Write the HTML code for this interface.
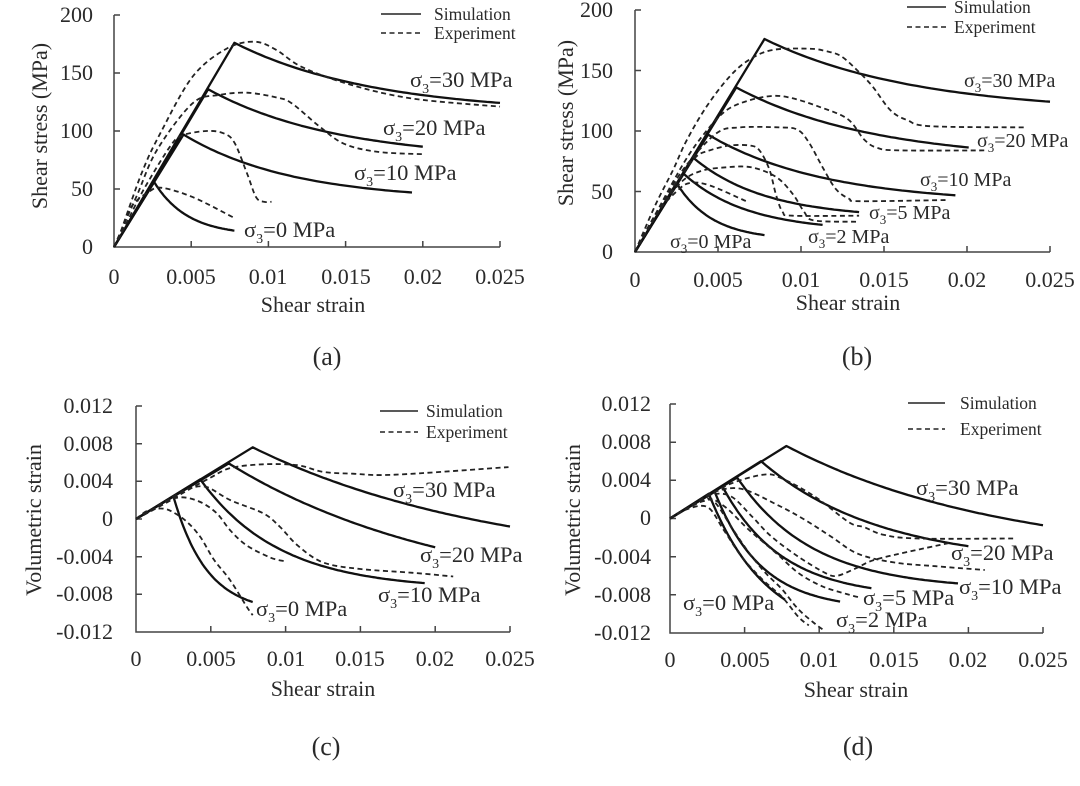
<!DOCTYPE html>
<html><head><meta charset="utf-8"><style>
html,body{margin:0;padding:0;background:#fff;}
svg{display:block;}
text{font-family:"Liberation Serif","Times New Roman",serif;fill:#2a2a2a;}
.tk{font-size:22px;}
.ax{font-size:22px;}
.lg{font-size:17.5px;}
.la{font-size:22.5px;}
.lb{font-size:20px;}
.cap{font-size:26px;}
</style></head><body>
<svg id="s" width="1080" height="786" viewBox="0 0 1080 786" xmlns="http://www.w3.org/2000/svg">
<rect width="1080" height="786" fill="#fff"/>
<g fill="none" stroke="#444" stroke-width="1.5">
<path d="M114,15 V247 H500 M114,15 H120 M114,73 H120 M114,131 H120 M114,189 H120 M191.2,247 V241 M268.4,247 V241 M345.6,247 V241 M422.8,247 V241 M500,247 V241"/>
<path d="M635,10 V252 H1050 M635,10 H641 M635,70.5 H641 M635,131 H641 M635,191.5 H641 M718,252 V246 M801,252 V246 M884,252 V246 M967,252 V246 M1050,252 V246"/>
<path d="M136,406 V632 H510 M136,406 H142 M136,443.7 H142 M136,481.3 H142 M136,519 H142 M136,556.7 H142 M136,594.3 H142 M210.8,632 V626 M285.6,632 V626 M360.4,632 V626 M435.2,632 V626 M510,632 V626"/>
<path d="M670,404 V633 H1043 M670,404 H676 M670,442.2 H676 M670,480.3 H676 M670,518.5 H676 M670,556.7 H676 M670,594.8 H676 M744.6,633 V627 M819.2,633 V627 M893.8,633 V627 M968.4,633 V627 M1043,633 V627"/>
</g>
<g stroke="#222" stroke-width="1.6" fill="none">
<path d="M381,14 H421"/><path d="M381,33 H421" stroke-dasharray="5 3.5"/>
<path d="M907,7 H946"/><path d="M907,27 H946" stroke-dasharray="5 3.5"/>
<path d="M380,411 H418"/><path d="M380,432 H418" stroke-dasharray="5 3.5"/>
<path d="M908,403 H945"/><path d="M908,429 H945" stroke-dasharray="5 3.5"/>
</g>
<g class="lg">
<text x="434" y="20">Simulation</text><text x="434" y="39">Experiment</text>
<text x="954" y="13">Simulation</text><text x="954" y="33">Experiment</text>
<text x="426" y="417">Simulation</text><text x="426" y="438">Experiment</text>
<text x="960" y="409">Simulation</text><text x="960" y="435">Experiment</text>
</g>
<g class="tk" text-anchor="end">
<text x="93" y="22">200</text><text x="93" y="80">150</text><text x="93" y="138">100</text><text x="93" y="196">50</text><text x="93" y="254">0</text>
<text x="613" y="17">200</text><text x="613" y="78">150</text><text x="613" y="138">100</text><text x="613" y="199">50</text><text x="613" y="259">0</text>
<text x="113" y="413">0.012</text><text x="113" y="451">0.008</text><text x="113" y="488">0.004</text><text x="113" y="526">0</text><text x="113" y="564">-0.004</text><text x="113" y="601">-0.008</text><text x="113" y="639">-0.012</text>
<text x="651" y="411">0.012</text><text x="651" y="449">0.008</text><text x="651" y="487">0.004</text><text x="651" y="525">0</text><text x="651" y="564">-0.004</text><text x="651" y="602">-0.008</text><text x="651" y="640">-0.012</text>
</g>
<g class="tk" text-anchor="middle">
<text x="114" y="284">0</text><text x="191" y="284">0.005</text><text x="268" y="284">0.01</text><text x="346" y="284">0.015</text><text x="423" y="284">0.02</text><text x="500" y="284">0.025</text>
<text x="635" y="287">0</text><text x="718" y="287">0.005</text><text x="801" y="287">0.01</text><text x="884" y="287">0.015</text><text x="967" y="287">0.02</text><text x="1050" y="287">0.025</text>
<text x="136" y="666">0</text><text x="211" y="666">0.005</text><text x="286" y="666">0.01</text><text x="360" y="666">0.015</text><text x="435" y="666">0.02</text><text x="510" y="666">0.025</text>
<text x="670" y="667">0</text><text x="745" y="667">0.005</text><text x="819" y="667">0.01</text><text x="894" y="667">0.015</text><text x="968" y="667">0.02</text><text x="1043" y="667">0.025</text>
</g>
<g class="ax" text-anchor="middle">
<text x="313" y="312">Shear strain</text>
<text x="848" y="310">Shear strain</text>
<text x="323" y="696">Shear strain</text>
<text x="856" y="697">Shear strain</text>
<text transform="translate(47,126) rotate(-90)">Shear stress (MPa)</text>
<text transform="translate(573,123) rotate(-90)">Shear stress (MPa)</text>
<text transform="translate(41,520) rotate(-90)">Volumetric  strain</text>
<text transform="translate(580,520) rotate(-90)">Volumetric  strain</text>
</g>
<g class="cap" text-anchor="middle">
<text x="327" y="365">(a)</text>
<text x="857" y="365">(b)</text>
<text x="326" y="755">(c)</text>
<text x="858" y="755">(d)</text>
</g>
<g class="la">
<text x="410" y="87">σ<tspan font-size="14" dy="6">3</tspan><tspan dy="-6">=30 MPa</tspan></text>
<text x="383" y="135">σ<tspan font-size="14" dy="6">3</tspan><tspan dy="-6">=20 MPa</tspan></text>
<text x="354" y="180">σ<tspan font-size="14" dy="6">3</tspan><tspan dy="-6">=10 MPa</tspan></text>
<text x="244" y="237">σ<tspan font-size="14" dy="6">3</tspan><tspan dy="-6">=0 MPa</tspan></text>
</g>
<g class="lb">
<text x="964" y="87">σ<tspan font-size="13" dy="5">3</tspan><tspan dy="-5">=30 MPa</tspan></text>
<text x="977" y="147">σ<tspan font-size="13" dy="5">3</tspan><tspan dy="-5">=20 MPa</tspan></text>
<text x="920" y="186">σ<tspan font-size="13" dy="5">3</tspan><tspan dy="-5">=10 MPa</tspan></text>
<text x="869" y="219">σ<tspan font-size="13" dy="5">3</tspan><tspan dy="-5">=5 MPa</tspan></text>
<text x="808" y="243">σ<tspan font-size="13" dy="5">3</tspan><tspan dy="-5">=2 MPa</tspan></text>
<text x="670" y="248">σ<tspan font-size="13" dy="5">3</tspan><tspan dy="-5">=0 MPa</tspan></text>
</g>
<g class="la">
<text x="393" y="497">σ<tspan font-size="14" dy="6">3</tspan><tspan dy="-6">=30 MPa</tspan></text>
<text x="420" y="562">σ<tspan font-size="14" dy="6">3</tspan><tspan dy="-6">=20 MPa</tspan></text>
<text x="378" y="602">σ<tspan font-size="14" dy="6">3</tspan><tspan dy="-6">=10 MPa</tspan></text>
<text x="256" y="616">σ<tspan font-size="14" dy="6">3</tspan><tspan dy="-6">=0 MPa</tspan></text>
<text x="916" y="495">σ<tspan font-size="14" dy="6">3</tspan><tspan dy="-6">=30 MPa</tspan></text>
<text x="951" y="560">σ<tspan font-size="14" dy="6">3</tspan><tspan dy="-6">=20 MPa</tspan></text>
<text x="959" y="594">σ<tspan font-size="14" dy="6">3</tspan><tspan dy="-6">=10 MPa</tspan></text>
<text x="863" y="605">σ<tspan font-size="14" dy="6">3</tspan><tspan dy="-6">=5 MPa</tspan></text>
<text x="836" y="627">σ<tspan font-size="14" dy="6">3</tspan><tspan dy="-6">=2 MPa</tspan></text>
<text x="683" y="610">σ<tspan font-size="14" dy="6">3</tspan><tspan dy="-6">=0 MPa</tspan></text>
</g>
<g id="curves" fill="none" stroke-linejoin="round" stroke-linecap="butt"></g>
</svg>
<script>
(function(){
var NS="http://www.w3.org/2000/svg";
var g=document.getElementById("curves");
var M={
 A:{X:function(e){return 114+e*15440;},Y:function(s){return 247-s*1.16;}},
 B:{X:function(e){return 635+e*16600;},Y:function(s){return 252-s*1.21;}},
 C:{X:function(e){return 136+e*14960;},Y:function(v){return 519-v*9430;}},
 D:{X:function(e){return 670+e*14920;},Y:function(v){return 518.5-v*9545;}}
};
function toPx(m,pts){return pts.map(function(p){return [m.X(p[0]),m.Y(p[1])];});}
function spline(p){
 var d="M"+p[0][0].toFixed(1)+","+p[0][1].toFixed(1);
 for(var i=0;i<p.length-1;i++){
  var p0=p[i-1]||p[i],p1=p[i],p2=p[i+1],p3=p[i+2]||p2;
  var c1x=p1[0]+(p2[0]-p0[0])/6,c1y=p1[1]+(p2[1]-p0[1])/6;
  var c2x=p2[0]-(p3[0]-p1[0])/6,c2y=p2[1]-(p3[1]-p1[1])/6;
  d+=" C"+c1x.toFixed(1)+","+c1y.toFixed(1)+" "+c2x.toFixed(1)+","+c2y.toFixed(1)+" "+p2[0].toFixed(1)+","+p2[1].toFixed(1);
 }
 return d;
}
function add(d,dashed){
 var e=document.createElementNS(NS,"path");
 e.setAttribute("d",d);
 e.setAttribute("stroke",dashed?"#222":"#111");
 e.setAttribute("stroke-width",dashed?"1.8":"2.3");
 if(dashed)e.setAttribute("stroke-dasharray","5 3.5");
 g.appendChild(e);
}
function simS(m,ep,sp,sr,k,end){
 var d="M"+m.X(0)+","+m.Y(0)+" L"+m.X(ep).toFixed(1)+","+m.Y(sp).toFixed(1);
 var n=60;
 for(var i=1;i<=n;i++){var e=ep+(end-ep)*i/n;var s=sr+(sp-sr)*Math.exp(-k*(e-ep));d+=" L"+m.X(e).toFixed(1)+","+m.Y(s).toFixed(1);}
 add(d,false);
}
// fit exponential through peak, mid and end; draw with linear rise from origin
function simFit(m,ep,vp,em,vm,ee,ve){
 function aFor(k){var E=Math.exp(-k*(ee-ep));return (ve-vp*E)/(1-E);}
 function f(k){var a=aFor(k);return a+(vp-a)*Math.exp(-k*(em-ep))-vm;}
 var lo=0.5,hi=3000,k;
 if(f(lo)*f(hi)>0){k=(Math.abs(f(lo))<Math.abs(f(hi)))?lo:hi;}
 else{for(var i=0;i<80;i++){var mid=(lo+hi)/2;if(f(lo)*f(mid)<=0)hi=mid;else lo=mid;}k=(lo+hi)/2;}
 var a=aFor(k);
 var d="M"+m.X(0)+","+m.Y(0)+" L"+m.X(ep).toFixed(1)+","+m.Y(vp).toFixed(1);
 var n=80;
 for(var j=1;j<=n;j++){var e=ep+(ee-ep)*j/n;var v=a+(vp-a)*Math.exp(-k*(e-ep));d+=" L"+m.X(e).toFixed(1)+","+m.Y(v).toFixed(1);}
 add(d,false);
}
var A=M.A,B=M.B,C=M.C,D=M.D;
simS(A,0.0078,176,115,110,0.025);
simS(A,0.0061,136,75,120,0.020);
simS(A,0.0045,97,40,142,0.0193);
simS(A,0.0026,56,10,465,0.0078);
simS(B,0.0078,176,115,110,0.025);
simS(B,0.0061,136,75,120,0.0201);
simS(B,0.0044,97,40,142,0.0193);
simS(B,0.0035,78,28,230,0.0135);
simS(B,0.0029,65,17,260,0.0113);
simS(B,0.0025,57,10,465,0.0078);
function ex(m,pts){add(spline(toPx(m,pts)),true);}
ex(A,[[0,0],[0.0004,12],[0.0018,64],[0.003,98],[0.0051,147],[0.0073,171],[0.0091,177],[0.0105,170],[0.0122,155],[0.0153,140],[0.0193,128],[0.025,121]]);
ex(A,[[0,0],[0.0005,15],[0.0015,45],[0.0028,84],[0.0051,124],[0.0068,131],[0.0086,133],[0.0105,129],[0.0115,124],[0.0133,104],[0.0149,89],[0.0171,82],[0.02,80]]);
ex(A,[[0,0],[0.0006,15],[0.0019,49],[0.0036,86],[0.0044,96],[0.006,100],[0.0071,98],[0.0078,90],[0.0086,64],[0.0092,43],[0.0097,39],[0.0102,39]]);
ex(A,[[0,0],[0.0006,18],[0.0012,36],[0.0023,48],[0.0031,51],[0.0051,43],[0.0078,25]]);
ex(B,[[0,0],[0.0012,38],[0.0023,68],[0.0031,92],[0.0043,120],[0.0057,145],[0.0069,159],[0.0083,167],[0.0105,168],[0.0115,166],[0.0124,162],[0.0134,150],[0.0143,137],[0.0154,117],[0.0164,109],[0.0178,104],[0.0235,103]]);
ex(B,[[0,0],[0.0015,38],[0.003,75],[0.0043,100],[0.0055,117],[0.0068,125],[0.0083,129],[0.0095,127],[0.0111,120],[0.0128,110],[0.0138,93],[0.0146,86],[0.016,84],[0.0212,84]]);
ex(B,[[0,0],[0.0015,37],[0.003,70],[0.0049,98],[0.0063,103],[0.0087,103],[0.0098,101],[0.0105,90],[0.0113,70],[0.0121,52],[0.0129,44],[0.0136,42],[0.0189,43]]);
ex(B,[[0,0],[0.0015,36],[0.0028,63],[0.0037,79],[0.0045,84],[0.0057,88],[0.0069,88],[0.0075,84],[0.0081,68],[0.0085,47],[0.0089,33],[0.0095,30],[0.0135,30]]);
ex(B,[[0,0],[0.0015,35],[0.0028,58],[0.004,67],[0.0055,70],[0.007,70],[0.0085,62],[0.0095,48],[0.0102,33],[0.0108,26],[0.0135,25]]);
ex(B,[[0,0],[0.0012,30],[0.0025,50],[0.0033,57],[0.0045,55],[0.0067,42]]);
// (c) simulation
simFit(C,0.0078,0.0076,0.013,0.0041,0.025,-0.0008);
simFit(C,0.0062,0.0059,0.0108,0.002,0.020,-0.0030);
simFit(C,0.0043,0.0042,0.0085,-0.0022,0.0193,-0.0068);
simFit(C,0.0025,0.0024,0.0051,-0.0061,0.0078,-0.0088);
// (d) simulation
simFit(D,0.0078,0.0076,0.013,0.0040,0.025,-0.0007);
simFit(D,0.0061,0.0060,0.0108,0.0012,0.020,-0.0029);
simFit(D,0.0045,0.0043,0.0086,-0.0022,0.0193,-0.0068);
simFit(D,0.0035,0.0034,0.0064,-0.0026,0.0135,-0.0073);
simFit(D,0.0030,0.0028,0.0064,-0.0054,0.0114,-0.0087);
simFit(D,0.0026,0.0026,0.0055,-0.0054,0.0077,-0.0085);
// (c) experiments
ex(C,[[0,0],[0.002,0.0017],[0.0035,0.0031],[0.005,0.0044],[0.0063,0.0054],[0.0085,0.0058],[0.0108,0.0057],[0.0125,0.005],[0.0145,0.0048],[0.0173,0.0047],[0.0249,0.0055]]);
ex(C,[[0,0],[0.0015,0.0013],[0.0025,0.0024],[0.0035,0.0032],[0.0047,0.0034],[0.0063,0.002],[0.0085,0.0006],[0.0096,-0.0008],[0.0108,-0.0028],[0.0125,-0.0046],[0.015,-0.0053],[0.0185,-0.0057],[0.0212,-0.0061]]);
ex(C,[[0,0],[0.001,0.0009],[0.002,0.0019],[0.0031,0.0023],[0.0043,0.0018],[0.0054,0.0006],[0.0063,-0.0012],[0.0074,-0.0028],[0.009,-0.0041],[0.01,-0.0045]]);
ex(C,[[0,0],[0.0008,0.0009],[0.0018,0.0011],[0.0025,0.0007],[0.0034,-0.0003],[0.0043,-0.0019],[0.0052,-0.0043],[0.0063,-0.0065],[0.0074,-0.0093],[0.0078,-0.0102]]);
// (d) experiments
ex(D,[[0,0],[0.002,0.0018],[0.004,0.0036],[0.0063,0.0046],[0.0075,0.0042],[0.0097,0.0023],[0.012,-0.0004],[0.013,-0.0009],[0.0143,-0.0017],[0.0166,-0.0021],[0.023,-0.0021]]);
ex(D,[[0,0],[0.0015,0.0014],[0.003,0.0028],[0.0048,0.0031],[0.0071,0.0015],[0.009,-0.0001],[0.0108,-0.0019],[0.0126,-0.0037],[0.015,-0.0046],[0.0178,-0.0050],[0.0211,-0.0054]]);
ex(D,[[0,0],[0.0015,0.0014],[0.0028,0.0025],[0.0041,0.0023],[0.0055,0.0002],[0.0068,-0.0019],[0.0086,-0.004],[0.0104,-0.0057],[0.0112,-0.006],[0.0125,-0.0052],[0.014,-0.0042],[0.0189,-0.0025]]);
ex(D,[[0,0],[0.0012,0.0011],[0.0025,0.0021],[0.0037,0.0012],[0.0053,-0.0012],[0.0071,-0.0036],[0.0086,-0.0057],[0.0102,-0.0071],[0.0118,-0.0079],[0.0128,-0.0083]]);
ex(D,[[0,0],[0.001,0.0009],[0.0022,0.0018],[0.003,0.0017],[0.0042,-0.0011],[0.0053,-0.0036],[0.0064,-0.0057],[0.0075,-0.0074],[0.0086,-0.0095],[0.0097,-0.011],[0.0104,-0.0118]]);
ex(D,[[0,0],[0.001,0.0009],[0.0025,0.0012],[0.0036,-0.0012],[0.0048,-0.004],[0.0062,-0.0064],[0.0075,-0.0082],[0.0086,-0.0103],[0.0093,-0.0112]]);
})();
</script>
</body></html>
